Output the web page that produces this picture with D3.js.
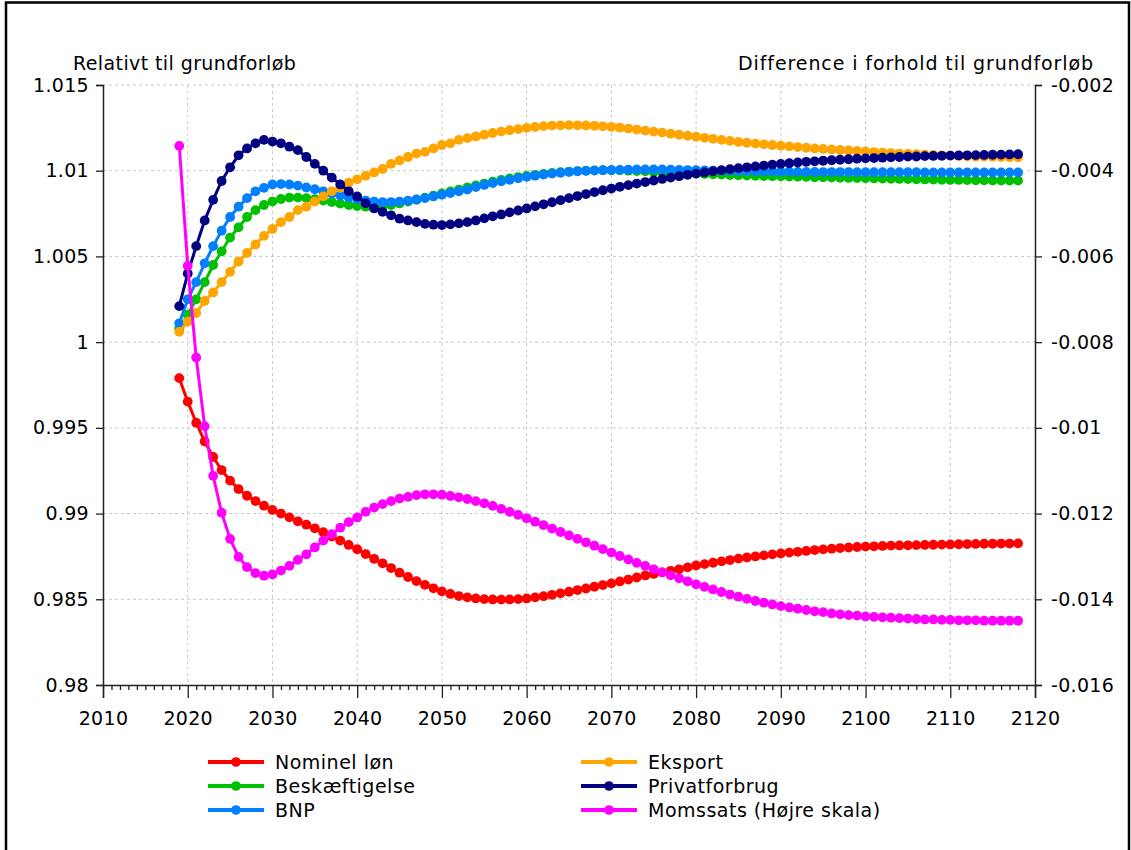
<!DOCTYPE html>
<html><head><meta charset="utf-8">
<script src="https://cdn.jsdelivr.net/npm/d3@7"></script>
<style>html,body{margin:0;padding:0;background:#fff;}svg{display:block;}</style>
</head><body>
<svg id="chart" width="1131" height="850"></svg>
<script>
const years = d3.range(2019, 2119);
const nominelLon = [0.9979,0.99653,0.9953,0.9942,0.9933,0.99254,0.99192,0.99143,0.99104,0.99073,0.99046,0.99021,0.99,0.98978,0.98955,0.98935,0.98914,0.98891,0.98866,0.98842,0.98817,0.98792,0.98764,0.98736,0.9871,0.98682,0.98655,0.9863,0.98606,0.98584,0.98564,0.98546,0.98531,0.98519,0.98511,0.98505,0.98501,0.98499,0.98498,0.98499,0.98501,0.98505,0.98511,0.98518,0.98526,0.98535,0.98544,0.98554,0.98563,0.98573,0.98583,0.98593,0.98604,0.98615,0.98627,0.98639,0.98648,0.98657,0.98666,0.98675,0.98686,0.98697,0.98705,0.98713,0.98721,0.98729,0.98737,0.98744,0.9875,0.98756,0.98762,0.98767,0.98772,0.98777,0.98782,0.98787,0.98791,0.98795,0.98799,0.98802,0.98805,0.98807,0.98809,0.98811,0.98813,0.98814,0.98815,0.98816,0.98817,0.98818,0.98819,0.9882,0.98821,0.98822,0.98823,0.98824,0.98824,0.98825,0.98825,0.98826];
const beskaeftigelse = [1.0008,1.0016,1.0025,1.0035,1.0045,1.0053,1.0061,1.0067,1.0073,1.0077,1.008,1.0082,1.00835,1.00843,1.00843,1.0084,1.00834,1.00826,1.00817,1.00808,1.008,1.00794,1.0079,1.0079,1.00794,1.008,1.00809,1.0082,1.00831,1.00843,1.00855,1.00867,1.00879,1.0089,1.00902,1.00914,1.00925,1.00936,1.00946,1.00955,1.00963,1.0097,1.00976,1.00982,1.00987,1.00991,1.00995,1.00998,1.01,1.01002,1.01003,1.01003,1.01002,1.01,1.00998,1.00996,1.00993,1.00991,1.00989,1.00987,1.00985,1.00983,1.00981,1.00979,1.00977,1.00975,1.00973,1.00972,1.0097,1.00969,1.00968,1.00967,1.00966,1.00965,1.00964,1.00962,1.00961,1.0096,1.00959,1.00958,1.00957,1.00956,1.00955,1.00954,1.00953,1.00952,1.00951,1.0095,1.00949,1.00948,1.00947,1.00946,1.00946,1.00945,1.00944,1.00944,1.00943,1.00943,1.00942,1.00942];
const bnp = [1.0011,1.0025,1.0035,1.0046,1.0056,1.0065,1.0073,1.0079,1.0084,1.0088,1.009,1.0092,1.00922,1.0092,1.00913,1.00902,1.00892,1.0088,1.00867,1.00855,1.00844,1.00834,1.00826,1.0082,1.00817,1.00817,1.0082,1.00825,1.00832,1.0084,1.0085,1.0086,1.0087,1.0088,1.0089,1.00905,1.00917,1.00928,1.00938,1.00947,1.00956,1.00964,1.00971,1.00977,1.00983,1.00988,1.00993,1.00996,1.00999,1.01001,1.01003,1.01004,1.01005,1.01006,1.01007,1.01007,1.01007,1.01007,1.01006,1.01005,1.01004,1.01003,1.01002,1.01001,1.01,1.00999,1.00998,1.00997,1.00996,1.00995,1.00995,1.00994,1.00994,1.00993,1.00993,1.00993,1.00992,1.00992,1.00992,1.00992,1.00991,1.00991,1.00991,1.00991,1.00991,1.00991,1.00991,1.00991,1.0099,1.0099,1.0099,1.0099,1.0099,1.0099,1.0099,1.0099,1.0099,1.0099,1.0099,1.0099];
const eksport = [1.0006,1.0012,1.0017,1.0024,1.0029,1.0035,1.0041,1.0047,1.0052,1.0057,1.0062,1.0066,1.007,1.0073,1.0077,1.0079,1.0082,1.0085,1.0088,1.009,1.0093,1.0095,1.0097,1.0099,1.0101,1.0104,1.0106,1.0108,1.011,1.0111,1.0113,1.0115,1.0116,1.0118,1.0119,1.012,1.0121,1.0122,1.01228,1.01236,1.01243,1.0125,1.01255,1.0126,1.01263,1.01265,1.01266,1.01265,1.01264,1.01262,1.01259,1.01256,1.01251,1.01246,1.0124,1.01234,1.01228,1.01222,1.01216,1.0121,1.01204,1.01198,1.01192,1.01186,1.0118,1.01174,1.01168,1.01163,1.01158,1.01154,1.0115,1.01146,1.01142,1.01138,1.01134,1.0113,1.01127,1.01124,1.01121,1.01118,1.01115,1.01112,1.01109,1.01106,1.01103,1.011,1.01098,1.01096,1.01094,1.01092,1.0109,1.01088,1.01086,1.01084,1.01083,1.01082,1.01081,1.0108,1.01079,1.01078];
const privatforbrug = [1.0021,1.004,1.0056,1.0071,1.0083,1.0094,1.0102,1.0109,1.0113,1.0116,1.0118,1.0117,1.0116,1.0114,1.0112,1.0108,1.0104,1.01,1.0096,1.0092,1.0088,1.0085,1.0081,1.0078,1.0076,1.0074,1.0072,1.0071,1.007,1.0069,1.00685,1.00683,1.00687,1.00693,1.007,1.0071,1.00722,1.00734,1.00745,1.00757,1.00768,1.0078,1.00792,1.00804,1.00816,1.00828,1.0084,1.00852,1.00864,1.00875,1.00886,1.00896,1.00906,1.00916,1.00925,1.00934,1.00943,1.00952,1.0096,1.00968,1.00976,1.00983,1.0099,1.00997,1.01003,1.01009,1.01015,1.0102,1.01025,1.0103,1.01035,1.0104,1.01044,1.01048,1.01052,1.01055,1.01058,1.01061,1.01064,1.01067,1.0107,1.01072,1.01074,1.01076,1.01078,1.0108,1.01082,1.01083,1.01085,1.01086,1.01087,1.01088,1.01089,1.0109,1.01091,1.01092,1.01093,1.01094,1.01095,1.01096];
const momssats = [-0.00342,-0.00622,-0.00836,-0.00996,-0.01112,-0.01198,-0.01259,-0.01301,-0.01325,-0.01339,-0.01345,-0.01342,-0.01333,-0.01322,-0.01308,-0.01295,-0.01279,-0.01263,-0.01248,-0.01233,-0.0122,-0.01209,-0.01196,-0.01186,-0.01178,-0.01171,-0.01165,-0.01161,-0.01157,-0.01155,-0.01155,-0.01156,-0.01159,-0.01162,-0.01166,-0.01171,-0.01176,-0.01182,-0.01189,-0.01196,-0.01203,-0.01211,-0.01219,-0.01227,-0.01235,-0.01243,-0.01251,-0.01259,-0.01267,-0.01275,-0.01283,-0.01291,-0.01299,-0.01307,-0.01315,-0.01322,-0.0133,-0.01337,-0.01344,-0.01351,-0.01358,-0.01365,-0.01371,-0.01377,-0.01383,-0.01389,-0.01394,-0.01399,-0.01404,-0.01408,-0.01412,-0.01416,-0.01419,-0.01422,-0.01425,-0.01428,-0.0143,-0.01433,-0.01435,-0.01437,-0.01438,-0.0144,-0.01441,-0.01442,-0.01443,-0.01444,-0.01445,-0.01446,-0.01447,-0.01447,-0.01448,-0.01448,-0.01449,-0.01449,-0.01449,-0.0145,-0.0145,-0.0145,-0.0145,-0.0145];

const seriesNames = ["Nominel løn","Beskæftigelse","BNP","Eksport","Privatforbrug","Momssats (Højre skala)"];
const seriesColors = ["#ff0000","#00c000","#0080ff","#ffa500","#000080","#ff00ff"];
const seriesValues = [nominelLon, beskaeftigelse, bnp, eksport, privatforbrug, momssats];
const seriesAxis = ["left","left","left","left","left","right"];

const xTicks = [2010,2020,2030,2040,2050,2060,2070,2080,2090,2100,2110,2120];
const leftTicks = [0.98,0.985,0.99,0.995,1,1.005,1.01,1.015];
const leftTickLabels = ["0.98","0.985","0.99","0.995","1","1.005","1.01","1.015"];
const rightTicks = [-0.016,-0.014,-0.012,-0.01,-0.008,-0.006,-0.004,-0.002];
const rightTickLabels = ["-0.016","-0.014","-0.012","-0.01","-0.008","-0.006","-0.004","-0.002"];
const leftTitle = "Relativt til grundforløb";
const rightTitle = "Difference i forhold til grundforløb";

const FONT = "'DejaVu Sans', Verdana, sans-serif";
const FS = 19;
const svg = d3.select("#chart");
const L = 103, R = 1035, T = 85, B = 685;

const x = d3.scaleLinear().domain([2010,2120]).range([L,R]);
const yL = d3.scaleLinear().domain([0.98,1.015]).range([B,T]);
const yR = d3.scaleLinear().domain([-0.016,-0.002]).range([B,T]);

// frame
svg.append("rect").attr("x",6).attr("y",2.5).attr("width",1123).attr("height",860)
  .attr("fill","none").attr("stroke","#000").attr("stroke-width",2.5);

// grid
const grid = svg.append("g").attr("stroke","#c8c8c8").attr("stroke-width",1).attr("stroke-dasharray","3,3");
grid.selectAll("line.v").data(xTicks.slice(1,-1)).join("line")
  .attr("x1",d=>x(d)).attr("x2",d=>x(d)).attr("y1",T).attr("y2",B);
grid.selectAll("line.h").data(leftTicks.slice(1)).join("line")
  .attr("x1",L).attr("x2",R).attr("y1",d=>yL(d)).attr("y2",d=>yL(d));

// axes
const axL = d3.axisLeft(yL).tickValues(leftTicks).tickFormat((d,i)=>leftTickLabels[i]).tickSize(7).tickPadding(7);
const axR = d3.axisRight(yR).tickValues(rightTicks).tickFormat((d,i)=>rightTickLabels[i]).tickSize(7).tickPadding(9);
const axB = d3.axisBottom(x).tickValues(xTicks).tickFormat(d3.format("d")).tickSize(13).tickPadding(14);
const axBm = d3.axisBottom(x).tickValues(d3.range(2011,2120).filter(d=>d%10!==0)).tickFormat("").tickSize(5);

function styleAxis(g){
  g.select(".domain").attr("stroke","#222").attr("stroke-width",1.5);
  g.selectAll(".tick line").attr("stroke","#222").attr("stroke-width",1.3);
  g.selectAll(".tick text").attr("fill","#000").style("font-family",FONT).style("font-size",FS+"px").style("letter-spacing","0.3px");
}
svg.append("g").attr("transform",`translate(0,${B})`).call(axBm).call(styleAxis).call(g=>g.select(".domain").remove());
svg.append("g").attr("transform",`translate(0,${B})`).call(axB).call(styleAxis);
svg.append("g").attr("transform",`translate(${L},0)`).call(axL).call(styleAxis);
svg.append("g").attr("transform",`translate(${R},0)`).call(axR).call(styleAxis);

svg.append("text").attr("x",73).attr("y",70).text(leftTitle)
  .style("font-family",FONT).style("font-size",FS+"px").style("letter-spacing","0.4px").attr("fill","#000");
svg.append("text").attr("x",1094).attr("y",70).attr("text-anchor","end").text(rightTitle)
  .style("font-family",FONT).style("font-size",FS+"px").style("letter-spacing","0.9px").attr("fill","#000");

// series
const plot = svg.append("g");
seriesValues.forEach((vals,i)=>{
  const ys = seriesAxis[i]==="left" ? yL : yR;
  const pts = years.map((yr,j)=>[yr, vals[j]]);
  const line = d3.line().x(d=>x(d[0])).y(d=>ys(d[1]));
  const g = plot.append("g");
  g.append("path").attr("d",line(pts)).attr("fill","none").attr("stroke",seriesColors[i]).attr("stroke-width",3);
  g.selectAll("circle").data(pts).join("circle")
    .attr("cx",d=>x(d[0])).attr("cy",d=>ys(d[1])).attr("r",4.9).attr("fill",seriesColors[i]);
});

// legend
const legCols = [208, 581];
const legRows = [762, 786, 810];
seriesNames.forEach((name,i)=>{
  const cx = legCols[Math.floor(i/3)], cy = legRows[i%3];
  const g = svg.append("g");
  g.append("line").attr("x1",cx).attr("x2",cx+56).attr("y1",cy).attr("y2",cy)
    .attr("stroke",seriesColors[i]).attr("stroke-width",4);
  g.append("circle").attr("cx",cx+28).attr("cy",cy).attr("r",4.8).attr("fill",seriesColors[i]);
  g.append("text").attr("x",cx+67).attr("y",cy).attr("dy","0.35em").text(name)
    .style("font-family",FONT).style("font-size",FS+"px").style("letter-spacing","0.5px").attr("fill","#000");
});
</script>
</body></html>
